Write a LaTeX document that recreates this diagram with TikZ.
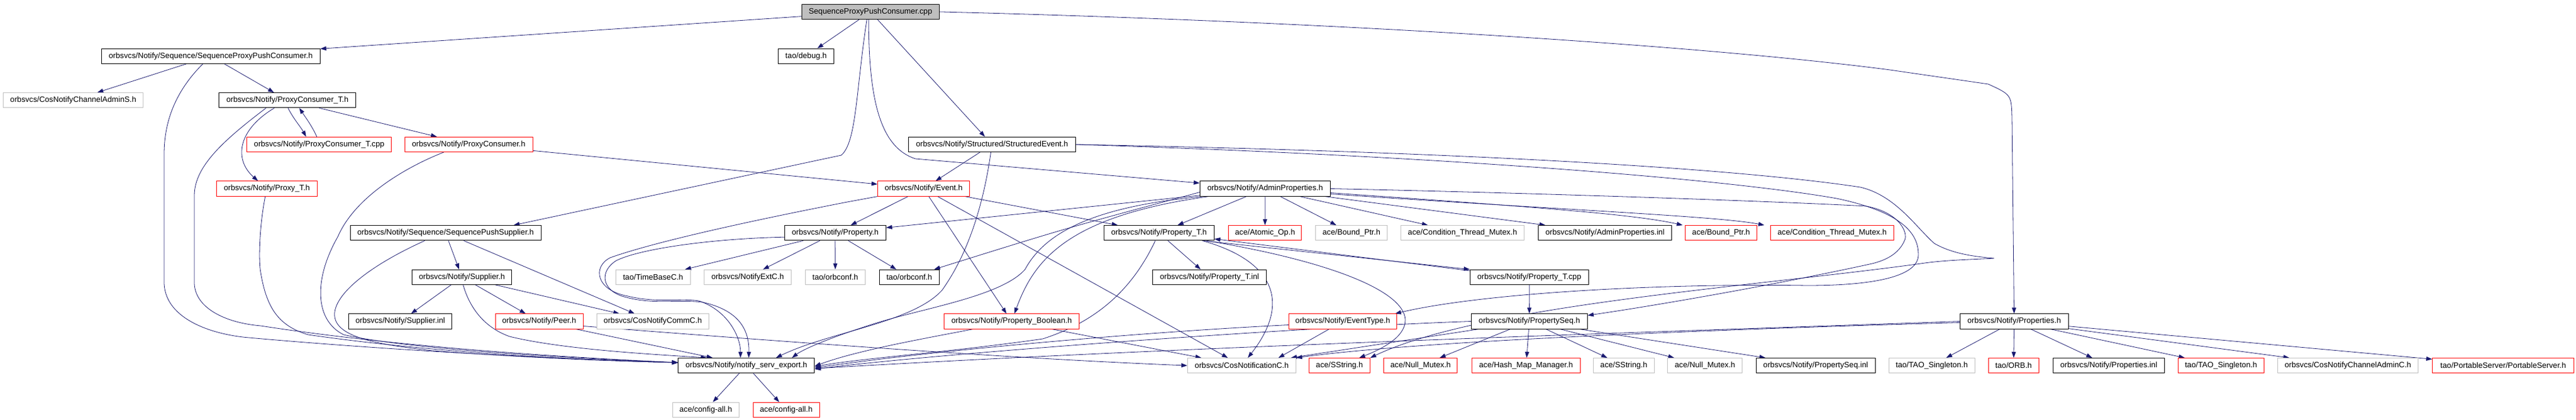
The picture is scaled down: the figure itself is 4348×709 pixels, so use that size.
\documentclass[tikz,border=0pt]{standalone}
\usepackage{fontspec}
\setmainfont{Liberation Sans}
\usepackage{tikz}
\usetikzlibrary{arrows.meta,backgrounds}

\definecolor{edgeblue}{RGB}{25,25,112}
\definecolor{undocgrey}{RGB}{191,191,191}

\begin{document}
\begin{tikzpicture}[x=1pt,y=-1pt,
    box/.style={rectangle,fill=white,line width=0.9pt,inner sep=0pt,minimum height=25.3pt,
      font=\fontsize{13.2pt}{15pt}\selectfont},
    doc/.style={box,draw=black},
    trunc/.style={box,draw=red},
    undoc/.style={box,draw=undocgrey},
    root/.style={box,draw=black,fill=undocgrey},
    inc/.style={draw=edgeblue,line width=0.8pt,-{Triangle[length=10pt,width=7pt]}}]
        \useasboundingbox (0,0) rectangle (4348,709);

        % rank 0 and 1
        \node[root,minimum width=232pt] (cpp) at (1469.2,19.9) {SequenceProxyPushConsumer.cpp};
        \node[doc,minimum width=369pt] (sppch) at (355.7,94.6) {orbsvcs/Notify/Sequence/SequenceProxyPushConsumer.h};
        \node[doc,minimum width=94pt] (debug) at (1360.6,94.6) {tao/debug.h};

        % rank 2 to 4
        \node[undoc,minimum width=236pt] (cnas) at (123.6,169.2) {orbsvcs/CosNotifyChannelAdminS.h};
        \node[doc,minimum width=231pt] (pct) at (485.1,169.2) {orbsvcs/Notify/ProxyConsumer\_T.h};
        \node[trunc,minimum width=244pt] (pctcpp) at (538.7,243.9) {orbsvcs/Notify/ProxyConsumer\_T.cpp};
        \node[trunc,minimum width=216pt] (pc) at (791,243.9) {orbsvcs/Notify/ProxyConsumer.h};
        \node[doc,minimum width=282pt] (se) at (1674.4,243.9) {orbsvcs/Notify/Structured/StructuredEvent.h};
        \node[trunc,minimum width=170pt] (pt) at (450.4,318.5) {orbsvcs/Notify/Proxy\_T.h};
        \node[trunc,minimum width=155pt] (ev) at (1559,318.5) {orbsvcs/Notify/Event.h};
        \node[doc,minimum width=220pt] (ap) at (2135.3,318.5) {orbsvcs/Notify/AdminProperties.h};

        % rank 5
        \node[doc,minimum width=322pt] (sps) at (752,393.2) {orbsvcs/Notify/Sequence/SequencePushSupplier.h};
        \node[doc,minimum width=171pt] (prop) at (1409.8,393.2) {orbsvcs/Notify/Property.h};
        \node[doc,minimum width=186pt] (ptt) at (1956.3,393.2) {orbsvcs/Notify/Property\_T.h};
        \node[trunc,minimum width=123pt] (atomic) at (2135.2,393.2) {ace/Atomic\_Op.h};
        \node[undoc,minimum width=121pt] (bpg) at (2281.1,393.2) {ace/Bound\_Ptr.h};
        \node[undoc,minimum width=208pt] (ctmg) at (2468.5,393.2) {ace/Condition\_Thread\_Mutex.h};
        \node[doc,minimum width=225pt] (apinl) at (2709,393.2) {orbsvcs/Notify/AdminProperties.inl};
        \node[trunc,minimum width=121pt] (bpr) at (2905,393.2) {ace/Bound\_Ptr.h};
        \node[trunc,minimum width=208pt] (ctmr) at (3092.4,393.2) {ace/Condition\_Thread\_Mutex.h};

        % rank 6
        \node[doc,minimum width=168pt] (sup) at (779.7,467.8) {orbsvcs/Notify/Supplier.h};
        \node[undoc,minimum width=126pt] (tb) at (1102.3,467.8) {tao/TimeBaseC.h};
        \node[undoc,minimum width=147pt] (nextc) at (1262,467.8) {orbsvcs/NotifyExtC.h};
        \node[undoc,minimum width=101pt] (orbg) at (1409.9,467.8) {tao/orbconf.h};
        \node[doc,minimum width=101pt] (orbb) at (1534.8,467.8) {tao/orbconf.h};
        \node[doc,minimum width=192pt] (ptinl) at (2041.4,467.8) {orbsvcs/Notify/Property\_T.inl};
        \node[doc,minimum width=200pt] (ptcpp) at (2581.2,467.8) {orbsvcs/Notify/Property\_T.cpp};

        % rank 7
        \node[doc,minimum width=174pt] (supinl) at (675.6,542.5) {orbsvcs/Notify/Supplier.inl};
        \node[trunc,minimum width=148pt] (peer) at (910,542.5) {orbsvcs/Notify/Peer.h};
        \node[undoc,minimum width=189pt] (cncomm) at (1101.8,542.5) {orbsvcs/CosNotifyCommC.h};
        \node[trunc,minimum width=228pt] (pbool) at (1707.5,542.5) {orbsvcs/Notify/Property\_Boolean.h};
        \node[trunc,minimum width=182pt] (evt) at (2266.4,542.5) {orbsvcs/Notify/EventType.h};
        \node[doc,minimum width=196pt] (pseq) at (2581.4,542.5) {orbsvcs/Notify/PropertySeq.h};
        \node[doc,minimum width=183pt] (props) at (3399.7,542.5) {orbsvcs/Notify/Properties.h};

        % rank 8
        \node[doc,minimum width=230pt] (nse) at (1259.8,617.1) {orbsvcs/Notify/notify\_serv\_export.h};
        \node[undoc,minimum width=183pt] (cnc) at (2095.9,617.1) {orbsvcs/CosNotificationC.h};
        \node[trunc,minimum width=103pt] (ssr) at (2260.8,617.1) {ace/SString.h};
        \node[trunc,minimum width=124pt] (nmr) at (2397.8,617.1) {ace/Null\_Mutex.h};
        \node[trunc,minimum width=183pt] (hmm) at (2575.8,617.1) {ace/Hash\_Map\_Manager.h};
        \node[undoc,minimum width=103pt] (ssg) at (2740.8,617.1) {ace/SString.h};
        \node[undoc,minimum width=126pt] (nmg) at (2877.8,617.1) {ace/Null\_Mutex.h};
        \node[doc,minimum width=201pt] (pseqinl) at (3064.6,617.1) {orbsvcs/Notify/PropertySeq.inl};
        \node[undoc,minimum width=145pt] (tsg) at (3260.6,617.1) {tao/TAO\_Singleton.h};
        \node[trunc,minimum width=85pt] (orb) at (3398.7,617.1) {tao/ORB.h};
        \node[doc,minimum width=188pt] (propsinl) at (3559.4,617.1) {orbsvcs/Notify/Properties.inl};
        \node[trunc,minimum width=145pt] (tsr) at (3748.8,617.1) {tao/TAO\_Singleton.h};
        \node[undoc,minimum width=237pt] (cnacc) at (3963,617.1) {orbsvcs/CosNotifyChannelAdminC.h};
        \node[trunc,minimum width=239pt] (pss) at (4225.2,617.1) {tao/PortableServer/PortableServer.h};

        % rank 9
        \node[undoc,minimum width=112pt] (cfg) at (1191.2,691.8) {ace/config-all.h};
        \node[trunc,minimum width=112pt] (cfr) at (1327,691.8) {ace/config-all.h};

        \begin{pgfonlayer}{background}
        % from the .cpp
        \draw[inc] (cpp) -- (sppch);
        \draw[inc] (cpp) -- (debug);
        \draw[inc] ([xshift=-6pt]cpp.south) .. controls (1445,150) and (1446,240) .. (1420,262) -- ([xshift=115pt]sps.north);
        \draw[inc] ([xshift=-3pt]cpp.south) .. controls (1466,180) and (1490,250) .. (1545,268) -- (ap);
        \draw[inc] (cpp) -- (se);
        \draw[inc] (cpp.east) .. controls (2300,38) and (2900,80) .. (3190,118) -- (3356,142) .. controls (3395,160) .. (3396,200) -- (props);

        % consumer side
        \draw[inc] (sppch) -- (cnas);
        \draw[inc] (sppch) -- (pct);
        \draw[inc] (sppch) .. controls (300,150) and (277,200) .. (277,260) -- (277,479) .. controls (280,540) and (360,565) .. (420,570) .. controls (700,595) and (1000,608) .. ([yshift=5pt]nse.west);
        \draw[inc] ([xshift=1pt]pct.south) .. controls (495,200) and (508,215) .. ([xshift=-22pt]pctcpp.north);
        \draw[inc] ([xshift=-4pt]pctcpp.north) .. controls (528,215) and (515,197) .. ([xshift=20pt]pct.south);
        \draw[inc] (pct) -- (pc);
        \draw[inc] (pct) .. controls (400,220) and (395,270) .. (pt);
        \draw[inc] ([xshift=-36pt]pct.south) .. controls (380,235) and (328,280) .. (328,330) -- (328,479) .. controls (330,520) and (380,545) .. (440,550) .. controls (700,590) and (1000,605) .. ([yshift=5pt]nse.west);
        \draw[inc] (pt) .. controls (438,380) and (436,440) .. (440,460) .. controls (450,520) and (470,550) .. (520,565) .. controls (750,598) and (1000,608) .. ([yshift=5pt]nse.west);
        \draw[inc] (pc) -- (ev);
        \draw[inc] ([xshift=-42pt]pc.south) .. controls (690,280) and (600,330) .. (570,400) .. controls (530,470) and (530,540) .. (580,565) .. controls (700,592) and (1000,606) .. ([yshift=5pt]nse.west);

        % supplier side
        \draw[inc] (sps) -- (sup);
        \draw[inc] (sps) -- (cncomm);
        \draw[inc] ([xshift=-35pt]sps.south) .. controls (620,450) and (560,500) .. (565,535) .. controls (570,570) and (640,582) .. (730,592) .. controls (900,605) and (1050,610) .. ([yshift=5pt]nse.west);
        \draw[inc] (sup) -- (supinl);
        \draw[inc] (sup) -- (peer);
        \draw[inc] (sup) -- (cncomm);
        \draw[inc] ([xshift=2pt]sup.south) .. controls (790,510) and (810,550) .. (860,568) .. controls (950,590) and (1100,598) .. ([xshift=-67pt]nse.north);
        \draw[inc] (peer) -- ([xshift=-57pt]nse.north);
        \draw[inc] ([yshift=-8pt]peer.east) .. controls (1300,575) and (1700,605) .. (cnc.west);

        % events
        \draw[inc] (se) -- (ev);
        \draw[inc] (se) .. controls (1662,330) and (1640,420) .. (1590,490) .. controls (1540,545) and (1400,560) .. ([xshift=50pt]nse.north);
        \draw[inc] (se.east) .. controls (2400,262) and (2900,300) .. (3100,335) .. controls (3220,360) and (3238,400) .. (3238,430) .. controls (3238,470) and (3150,482) .. (3050,482) .. controls (2800,478) and (2500,495) .. ([xshift=-3pt]evt.north east);
        \draw[inc] (se.east) .. controls (2400,255) and (2900,280) .. (3140,316) .. controls (3200,330) and (3235,385) .. (3265,411) .. controls (3295,428) and (3330,433) .. (3366,436) .. controls (3330,438) and (3280,439) .. (3242,445) .. controls (2950,485) and (2500,515) .. (ssr.north east);
        \draw[inc] (ev) -- (prop);
        \draw[inc] (ev) -- (ptt);
        \draw[inc] (ev) -- (pbool);
        \draw[inc] (ev) -- (cnc);
        \draw[inc] (ev.south west) -- (1430,341) .. controls (1250,376) and (1100,410) .. (1030,435) .. controls (1000,450) and (1005,490) .. (1060,500) .. controls (1110,512) and (1150,503) .. (1180,508) .. controls (1230,525) and (1250,570) .. ([xshift=-10pt]nse.north);

        % properties
        \draw[inc] (prop) -- (tb);
        \draw[inc] (prop) -- (nextc);
        \draw[inc] (prop) -- (orbg);
        \draw[inc] (prop) -- (orbb);
        \draw[inc] ([yshift=-7pt]prop.west) .. controls (1200,403) and (1080,420) .. (1040,440) .. controls (1012,458) and (1015,488) .. (1050,500) .. controls (1100,515) and (1140,505) .. (1185,510) .. controls (1240,522) and (1265,550) .. ([xshift=4pt]nse.north);
        \draw[inc] (ap) -- (prop);
        \draw[inc] ([yshift=-6pt]ap.west) .. controls (1800,385) .. (orbb);
        \draw[inc] ([xshift=-95pt]ap.south) .. controls (1800,365) and (1745,440) .. (pbool);
        \draw[inc] ([xshift=-105pt]ap.south) .. controls (1830,350) and (1760,400) .. (1730,455) .. controls (1690,500) and (1560,520) .. (1480,545) .. controls (1400,570) and (1355,590) .. ([xshift=77pt]nse.north);
        \draw[inc] (ap) -- (ptt);
        \draw[inc] (ap) -- (atomic);
        \draw[inc] (ap) -- (bpg);
        \draw[inc] (ap) -- (ctmg);
        \draw[inc] (ap) -- (apinl);
        \draw[inc] ([yshift=-7pt]ap.east) .. controls (2600,350) and (2760,362) .. ([xshift=-4pt]bpr.north west);
        \draw[inc] ([yshift=-9pt]ap.east) .. controls (2650,355) and (2900,365) .. ([xshift=-10pt]ctmr.north west);
        \draw[inc] (ap.east) .. controls (2600,326) and (3000,340) .. (3150,348) .. controls (3210,360) and (3220,395) .. (3215,405) .. controls (3205,430) and (3180,440) .. (3160,445) .. controls (3000,480) and (2800,515) .. ([yshift=-3pt]pseq.north east);

        \draw[inc] (ptt) -- (ptinl);
        \draw[inc] ([xshift=-20pt]ptt.south east) -- (ptcpp.north west);
        \draw[inc] ([xshift=6pt,yshift=-3pt]ptcpp.north west) -- ([yshift=3pt]ptt.south east);
        \draw[inc] ([xshift=73pt]ptt.south) .. controls (2150,440) and (2180,510) .. (cnc);
        \draw[inc] (ptt) .. controls (1915,480) and (1860,540) .. (1760,572) .. controls (1600,595) and (1450,605) .. ([yshift=-2pt]nse.east);
        \draw[inc] ([xshift=80pt]ptt.south) .. controls (2240,440) and (2370,490) .. (2372,540) .. controls (2372,570) and (2330,590) .. (ssr);
        \draw[inc] (ptcpp) -- (pseq);

        \draw[inc] (pbool) .. controls (1580,568) and (1450,590) .. ([yshift=-1pt]nse.east);
        \draw[inc] (pbool) -- (cnc);
        \draw[inc] (evt) -- ([xshift=62pt]cnc.north);
        \draw[inc] ([yshift=-6pt]evt.west) .. controls (1900,562) and (1550,595) .. ([yshift=-4pt]nse.east);

        \draw[inc] (pseq) -- (hmm);
        \draw[inc] (pseq) -- (nmr);
        \draw[inc] (pseq) -- (ssg);
        \draw[inc] (pseq) -- (nmg);
        \draw[inc] (pseq) -- (pseqinl);
        \draw[inc] (pseq) -- ([xshift=83pt]cnc.north);
        \draw[inc] (pseq.west) .. controls (2200,552) and (1600,595) .. ([yshift=-6pt]nse.east);

        \draw[inc] (props) -- (tsg);
        \draw[inc] (props) -- (orb);
        \draw[inc] (props) -- (propsinl);
        \draw[inc] (props) -- (tsr);
        \draw[inc] (props) -- (cnacc);
        \draw[inc] (props) -- (pss);
        \draw[inc] ([yshift=-2pt]props.west) .. controls (2900,556) and (2400,575) .. (cnc.north east);
        \draw[inc] (props.west) .. controls (2800,560) and (2000,585) .. ([yshift=-5pt]nse.east);

        \draw[inc] (nse) -- (cfg);
        \draw[inc] (nse) -- (cfr);
        \end{pgfonlayer}
    \end{tikzpicture}
\end{document}
